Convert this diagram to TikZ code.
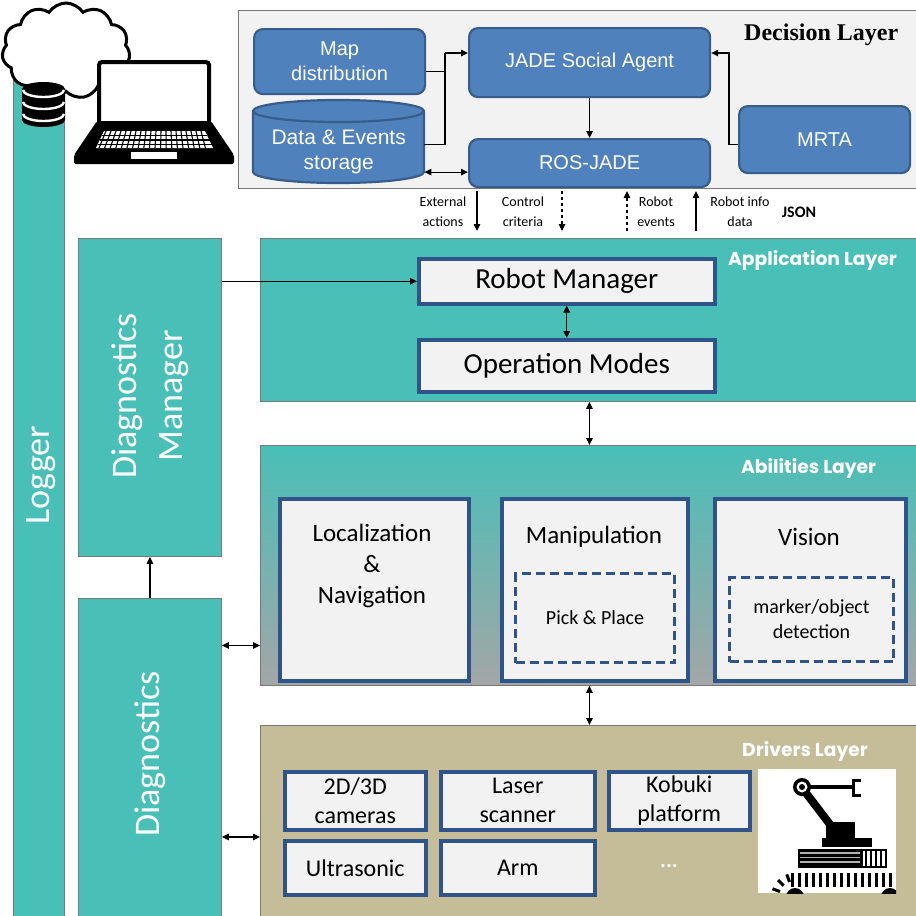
\documentclass[tikz,border=0pt]{standalone}
\usepackage{fontspec}
\setmainfont{Carlito}
\newfontfamily\arialfont{Liberation Sans}
\newfontfamily\timesfont{Liberation Serif}
\newfontfamily\layerfont{Poppins}
\usetikzlibrary{arrows.meta,shapes.symbols,calc}
\newcommand\fsz[2]{\fontsize{#1}{#2}\selectfont}
\definecolor{tealfill}{RGB}{72,191,183}
\definecolor{tanfill}{RGB}{196,189,151}
\definecolor{paper}{RGB}{242,242,242}
\definecolor{blueface}{RGB}{79,129,189}
\definecolor{bluedark}{RGB}{56,93,138}
\definecolor{boxline}{RGB}{47,84,140}
\definecolor{edgegray}{RGB}{120,120,120}
\definecolor{fadegray}{RGB}{163,166,166}
\begin{document}
\begin{tikzpicture}[x=1pt,y=-1pt,
  bluebox/.style={draw=bluedark, fill=blueface, line width=2.2pt, rounded corners=9pt,
    text=white, align=center, font=\arialfont\fsz{20}{25}, inner sep=0pt, anchor=north west},
  whitebox/.style={draw=boxline, fill=paper, line width=3.5pt, align=center,
    inner sep=0pt, anchor=north west, font=\fsz{25}{30}},
  dashbox/.style={draw=boxline, line width=3pt, dash pattern=on 9pt off 5pt,
    align=center, inner sep=0pt, anchor=north west, font=\fsz{20}{25}},
  layerbox/.style={draw=edgegray, line width=0.9pt, inner sep=0pt, anchor=north west},
  sidebox/.style={layerbox, fill=tealfill},
  layername/.style={text=white, font=\layerfont\bfseries\fsz{18.7}{22}, anchor=west, inner sep=0pt},
  vlabel/.style={text=white, rotate=90, align=center, font=\fsz{36}{46}},
  smalltxt/.style={align=center, font=\fsz{14}{20}, inner sep=0pt},
  arr/.style={line width=1.2pt, -{Triangle[length=7pt,width=6.5pt]}},
  darr/.style={line width=1.2pt, {Triangle[length=7pt,width=6.5pt]}-{Triangle[length=7pt,width=6.5pt]}},
  dasharr/.style={arr, dash pattern=on 3pt off 3pt}]
\useasboundingbox (0,0) rectangle (916,916);
\fill[white] (0,0) rectangle (916,916);

% ---------- Logger column with cloud and database ----------
\node[sidebox, minimum width=51pt, minimum height=840pt] (logger) at (13,80) {};
\node[vlabel] at (41,475) {Logger};
\node[cloud, cloud puffs=11, cloud puff arc=115, aspect=1.3, draw=black, line width=3pt,
  fill=white, minimum width=128pt, minimum height=96pt, inner sep=0pt] (cloud) at (66,51) {};
% database stack
\fill[black] (22,89) arc[start angle=180, end angle=360, x radius=21.5, y radius=7]
  -- (65,120) arc[start angle=0, end angle=180, x radius=21.5, y radius=7] -- cycle;
\foreach \yy in {90,102,114}
  \draw[white, line width=2.4pt] (23,\yy) arc[start angle=180, end angle=0, x radius=20.5, y radius=7];

% ---------- Laptop ----------
\draw[line width=4pt, fill=white, rounded corners=3pt] (99,62) rectangle (209,124);
\fill[black, rounded corners=2pt] (97,121) -- (211,121) -- (234,155) -- (234,164) -- (74,164) -- (74,155) -- cycle;
\fill[white] (104,131) -- (205,131) -- (213,148) -- (96,148) -- cycle;
\foreach \yy/\l/\r in {135.5/102/207,140/100/209.5,144.5/98/211.5}
  \draw[black, line width=1.1pt] (\l,\yy) -- (\r,\yy);
\foreach \i in {0,...,19}
  \draw[black, line width=1.1pt] ({106+\i*5},131) -- ({99+\i*5.6},148);
\fill[white] (131,152) rectangle (177,159);

% ---------- Decision layer ----------
\node[layerbox, fill=paper, line width=1.4pt, minimum width=700pt, minimum height=178pt] (dec) at (238,10) {};
\node[anchor=west, inner sep=0pt, font=\timesfont\bfseries\fsz{24}{28}] (dectitle) at (744,35) {Decision Layer};
\node[bluebox, minimum width=171pt, minimum height=65pt] (map) at (253,28) {Map\\distribution};
\filldraw[fill=blueface, draw=bluedark, line width=2.2pt]
  (253,111) arc[start angle=180, end angle=360, x radius=85.5, y radius=11]
  -- (424,172) arc[start angle=0, end angle=180, x radius=85.5, y radius=11] -- cycle;
\draw[bluedark, line width=2.2pt] (253,111) arc[start angle=180, end angle=0, x radius=85.5, y radius=11];
\node[inner sep=0pt, minimum width=171pt, minimum height=66pt, anchor=north west, align=center,
  text=white, font=\arialfont\fsz{21}{25}] (store) at (253,119) {Data \& Events\\storage};
\node[bluebox, minimum width=241pt, minimum height=69pt] (jade) at (468,27) {JADE Social Agent};
\node[bluebox, minimum width=241pt, minimum height=48pt] (ros) at (468,138) {ROS-JADE};
\node[bluebox, minimum width=171pt, minimum height=67pt] (mrta) at (738,105) {MRTA};

\coordinate (jl) at (445,53);
\coordinate (jm) at (729,53);
\draw[line width=1.2pt] ([yshift=-10pt]map.east) -| (jl);
\draw[line width=1.2pt] ([yshift=8pt]store.east) -| (jl);
\draw[arr] (jl) -- (jade.west |- jl);
\draw[arr] ([yshift=-4.5pt]mrta.west) -| (jm) -- (jade.east |- jm);
\draw[arr] (jade.south) -- (ros.north);
\path ([yshift=-9pt]ros.west) coordinate (rw);
\draw[darr] (store.east |- rw) -- (rw);

% ---------- messages between decision and application layers ----------
\coordinate (ea1) at (477,191); \coordinate (ea2) at (477,231);
\coordinate (cc1) at (562,191); \coordinate (cc2) at (562,231);
\coordinate (re1) at (627,231); \coordinate (re2) at (627,191);
\coordinate (ri1) at (696,231); \coordinate (ri2) at (696,191);
\draw[arr] (ea1) -- (ea2);
\draw[dasharr] (cc1) -- (cc2);
\draw[dasharr] (re1) -- (re2);
\draw[arr] (ri1) -- (ri2);
\node[smalltxt] (ealab) at (443,212) {External\\actions};
\node[smalltxt] (cclab) at (523,212) {Control\\criteria};
\node[smalltxt] (relab) at (656,212) {Robot\\events};
\node[smalltxt] (rilab) at (740,212) {Robot info\\data};
\node[inner sep=0pt, font=\bfseries\fsz{16}{20}] (json) at (799,212) {JSON};

% ---------- Diagnostics ----------
\node[sidebox, minimum width=143pt, minimum height=318pt] (dm) at (78,238) {};
\node[vlabel] at (150,396) {Diagnostics\\Manager};
\node[sidebox, minimum width=143pt, minimum height=322pt] (diag) at (78,598) {};
\node[vlabel] at (150,754) {Diagnostics};

% ---------- Application layer ----------
\node[layerbox, fill=tealfill, minimum width=658pt, minimum height=163pt] (app) at (260,238) {};
\node[layername] at (728,260) {Application Layer};
\node[whitebox, minimum width=296pt, minimum height=45pt, font=\fsz{29}{34}] (rm) at (417,257) {Robot Manager};
\node[whitebox, minimum width=296pt, minimum height=52pt, font=\fsz{29}{34}] (om) at (417,338) {Operation Modes};
\draw[darr] (rm.south) -- (om.north);
\draw[arr] (dm.east |- rm.west) -- (rm.west);

% ---------- Abilities layer ----------
\node[layerbox, top color=tealfill, middle color=tealfill!72!fadegray, bottom color=fadegray,
  minimum width=658pt, minimum height=240pt] (abil) at (260,445) {};
\node[layername] at (741,468) {Abilities Layer};
\node[whitebox, minimum width=189pt, minimum height=182pt] (loc) at (278,497) {};
\node[align=center, font=\fsz{25}{31}, inner sep=0pt] at (372,566) {Localization\\\&\\Navigation};
\node[whitebox, minimum width=186pt, minimum height=182pt] (manip) at (500,497) {};
\node[font=\fsz{25}{30}, inner sep=0pt] at (594,537) {Manipulation};
\node[dashbox, minimum width=159pt, minimum height=89pt] (pick) at (514,572) {Pick \& Place};
\node[whitebox, minimum width=191pt, minimum height=182pt] (vision) at (713,497) {};
\node[font=\fsz{25}{30}, inner sep=0pt] at (809,537) {Vision};
\node[dashbox, minimum width=164pt, minimum height=84pt] (marker) at (728,576) {marker/object\\detection};

\draw[darr] (app.south) -- (abil.north);
\path (abil.west) ++(0,80) coordinate (aw);
\draw[darr] (diag.east |- aw) -- (aw);
\draw[arr] (diag.north) -- (dm.south);

% ---------- Drivers layer ----------
\node[layerbox, fill=tanfill, minimum width=658pt, minimum height=200pt] (drv) at (260,725) {};
\node[layername] at (742,751) {Drivers Layer};
\draw[darr] (abil.south) -- (drv.north);
\path (drv.west) ++(0,11.5) coordinate (dw);
\draw[darr] (diag.east |- dw) -- (dw);
\node[whitebox, minimum width=141pt, minimum height=58pt, font=\fsz{24}{29}] (cam) at (283,770) {2D/3D\\cameras};
\node[whitebox, minimum width=154pt, minimum height=58pt, font=\fsz{24}{29}] (laser) at (439,770) {Laser\\scanner};
\node[whitebox, minimum width=141pt, minimum height=58pt, font=\fsz{24}{29}] (kobuki) at (607,770) {Kobuki\\platform};
\node[whitebox, minimum width=141pt, minimum height=54pt, font=\fsz{24}{29}] (ultra) at (283,839) {Ultrasonic};
\node[whitebox, minimum width=154pt, minimum height=54pt, font=\fsz{24}{29}] (arm) at (439,839) {Arm};
\node[text=white, font=\bfseries\fsz{22}{26}, inner sep=0pt] (more) at (669,866) {...};

% robot picture
\node[fill=white, inner sep=0pt, minimum width=138pt, minimum height=124pt, anchor=north west] (robot) at (758,769) {};
\begin{scope}
  \clip (758,769) rectangle (896,893);
  \fill[black] (802,787) circle[radius=9];
  \fill[white] (802,787) circle[radius=5.5];
  \fill[black] (802,787) circle[radius=3];
  \draw[line width=4pt] (810,787) -- (852,787);
  \draw[line width=3pt] (861,780) -- (853,780) -- (853,795) -- (861,795);
  \draw[line width=8pt] (806,793) -- (832,827);
  \fill[black] (826,822) rectangle (855,840);
  \fill[black] (822,838) rectangle (872,847);
  \fill[black] (798,849) rectangle (862,868);
  \foreach \yy in {853,857.5,862}
    \draw[white!70!black, line width=1.4pt] (800,\yy) -- (860,\yy);
  \draw[line width=2pt] (862,850) rectangle (886,867);
  \foreach \xx in {866,871,876,881}
    \draw[line width=2.4pt] (\xx,850) -- (\xx,867);
  \foreach \xx in {792,799,...,890}
    \draw[line width=3pt] (\xx,873) -- (\xx,887);
  \foreach \a in {200,225,250}
    \draw[line width=3pt] ($(795,897)+(\a:16)$) -- ($(795,897)+(\a:24)$);
  \fill[black] (795,897) circle[radius=9];
  \fill[black] (890,897) circle[radius=9];
\end{scope}
\end{tikzpicture}
\end{document}
